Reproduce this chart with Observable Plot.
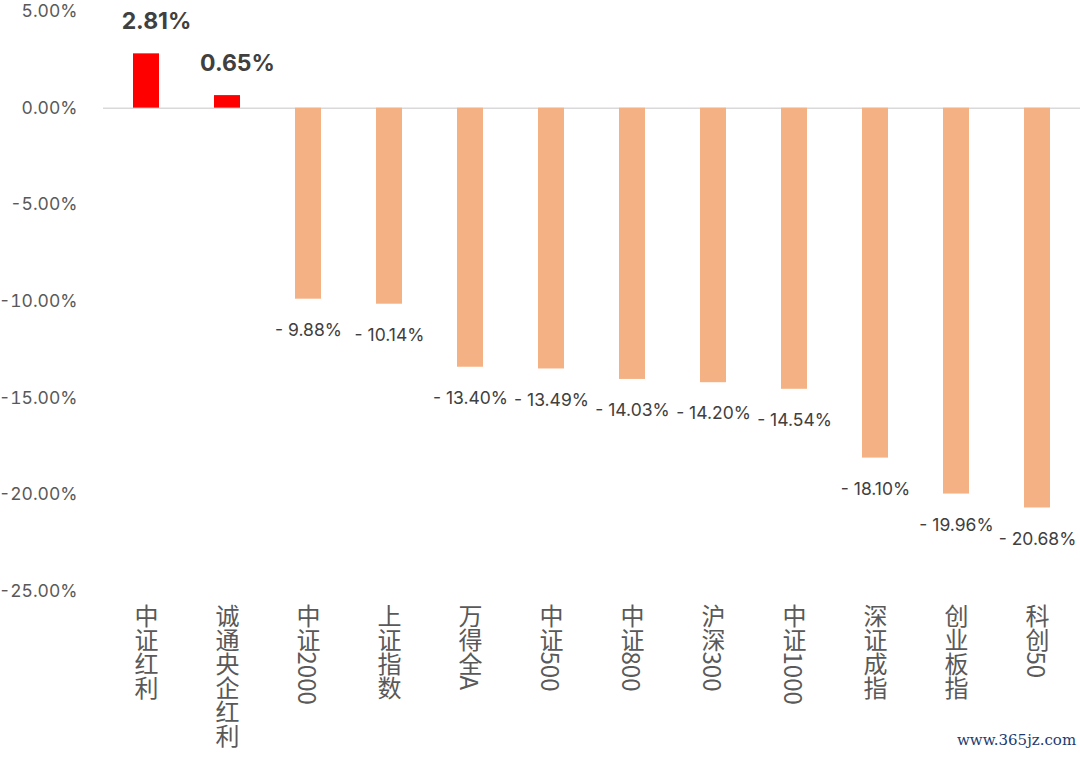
<!DOCTYPE html>
<html>
<head>
<meta charset="utf-8">
<script src="https://cdn.jsdelivr.net/npm/d3@7"></script>
<script src="https://cdn.jsdelivr.net/npm/@observablehq/plot@0.6"></script>
<style>
  html, body { margin: 0; padding: 0; background: #fff; }
  #wrap { position: relative; width: 1080px; height: 757px; }
  #wm { position: absolute; left: 957px; top: 731px; font-family: "DejaVu Serif", "Liberation Serif", serif; font-size: 15px; color: #1f3a6e; }
</style>
</head>
<body>
<div id="wrap"><div id="chart"></div><div id="wm">www.365jz.com</div></div>
<script>
const categories = ["中证红利","诚通央企红利","中证2000","上证指数","万得全A","中证500","中证800","沪深300","中证1000","深证成指","创业板指","科创50"];
const values = [2.81, 0.65, -9.88, -10.14, -13.40, -13.49, -14.03, -14.20, -14.54, -18.10, -19.96, -20.68];
const yTicks = [5, 0, -5, -10, -15, -20, -25];

const data = categories.map((c, i) => ({cat: c, v: values[i]}));
const fmtLabel = v => v >= 0 ? v.toFixed(2) + "%" : "- " + Math.abs(v).toFixed(2) + "%";

const chart = Plot.plot({
  width: 1080,
  height: 757,
  marginLeft: 103,
  marginRight: 0,
  marginTop: 11,
  marginBottom: 166,
  style: {fontFamily: "Inter, 'Noto Sans CJK SC', sans-serif", background: "#fff"},
  x: {domain: categories, paddingInner: 0.68, paddingOuter: 0.34, label: null},
  y: {domain: [-25, 5], label: null},
  marks: [
    Plot.ruleY([0], {stroke: "#d9d9d9", strokeWidth: 1.5}),
    Plot.barY(data, {x: "cat", y: "v", fill: d => d.v >= 0 ? "#ff0000" : "#f4b183"}),
    Plot.text(data.filter(d => d.v >= 0), {x: "cat", y: "v", text: d => fmtLabel(d.v), dy: -32, dx: 10, fontSize: 23, fontWeight: "bold", fill: "#404040"}),
    Plot.text(data.filter(d => d.v < 0), {x: "cat", y: "v", text: d => fmtLabel(d.v), dy: 31, fontSize: 17.5, fill: "#404040"}),
    Plot.axisY({ticks: yTicks, tickFormat: d => d.toFixed(2) + "%", tickSize: 0, tickPadding: 26, fontSize: 17.5, color: "#595959"}),
    Plot.axisX({tickSize: 0, tickPadding: 0, fontSize: 24, color: "#595959", fontFamily: "'Noto Sans CJK SC', sans-serif", textAnchor: "start"})
  ]
});
document.getElementById("chart").appendChild(chart);

// vertical writing mode for x labels
d3.select(chart).selectAll("g[aria-label='x-axis tick label'] text")
  .attr("y", 12)
  .attr("dy", null)
  .style("writing-mode", "vertical-rl")
  .style("text-orientation", "mixed")
  .attr("text-anchor", "start");
</script>
</body>
</html>
